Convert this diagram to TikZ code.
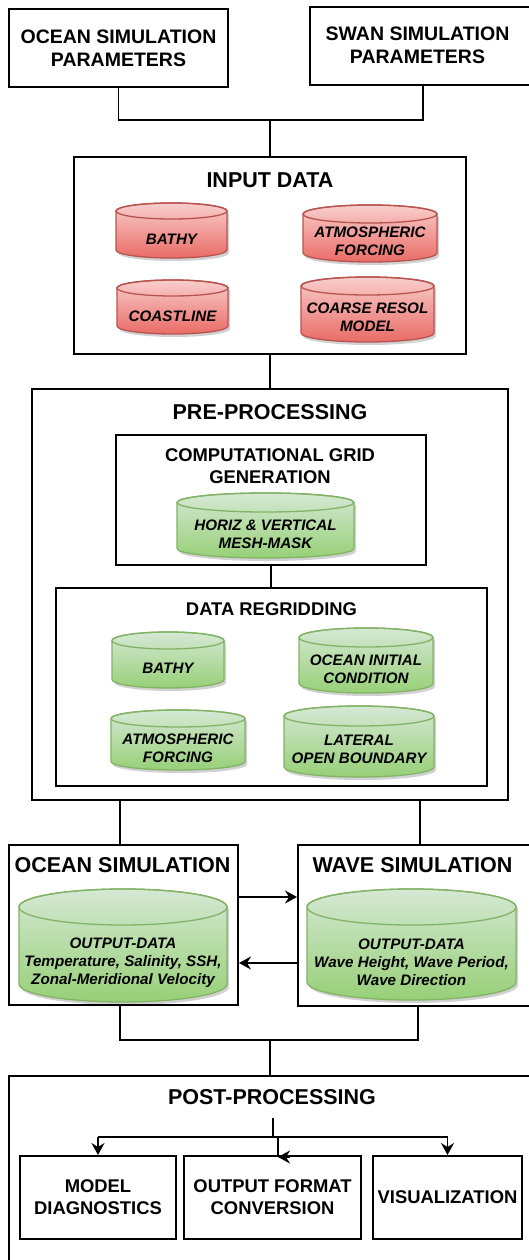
\documentclass[tikz,border=0pt]{standalone}
\usepackage{fontspec}
\setmainfont{Liberation Sans}
\usetikzlibrary{arrows.meta,calc}
\definecolor{redtop}{HTML}{F8CECC}
\definecolor{redbot}{HTML}{EA6B66}
\definecolor{redline}{HTML}{B85450}
\definecolor{grntop}{HTML}{D5E8D4}
\definecolor{grnbot}{HTML}{97D077}
\definecolor{grnline}{HTML}{82B366}
\tikzset{
  boxframe/.style={draw, line width=2pt, inner sep=0pt, align=center},
  bigttl/.style={font=\fontsize{21.5}{25}\selectfont\bfseries, inner sep=0pt},
  parttl/.style={font=\fontsize{19.5}{23}\selectfont\bfseries, align=center, inner sep=0pt},
  midttl/.style={font=\fontsize{18.4}{22}\selectfont\bfseries, align=center, inner sep=0pt},
  cyltxt/.style={font=\fontsize{15.2}{17.8}\selectfont\bfseries\itshape, align=center, inner sep=0pt},
  conn/.style={line width=1.8pt},
  arr/.style={line width=1.8pt, -{Stealth[length=12pt,width=13pt,inset=4pt]}},
}
\newcommand\cylnode[9]{%
  \pgfmathsetmacro\cylrx{(#3-#2)/2}%
  \pgfmathsetmacro\cylcx{(#2+#3)/2}%
  \pgfmathsetmacro\cylyt{-(#4+#6)}%
  \pgfmathsetmacro\cylyb{-(#5-#6)}%
  \fill[black,opacity=0.18] (#2+2,\cylyt-3) arc[start angle=180,end angle=0,x radius=\cylrx,y radius=#6] -- (#3+2,\cylyb-3) arc[start angle=0,end angle=-180,x radius=\cylrx,y radius=#6] -- cycle;
  \path[draw=#7line, line width=1.3pt, top color=#7top, bottom color=#7bot] (#2,\cylyt) arc[start angle=180,end angle=0,x radius=\cylrx,y radius=#6] -- (#3,\cylyb) arc[start angle=0,end angle=-180,x radius=\cylrx,y radius=#6] -- cycle;
  \draw[#7line, line width=1.3pt] (\cylcx,\cylyt) ellipse[x radius=\cylrx, y radius=#6];
  \node[cyltxt] (#1) at (\cylcx,-#9) {#8};
}
\begin{document}
\begin{tikzpicture}[x=1pt,y=1pt]
\useasboundingbox (0,0) rectangle (529,-1260);
\clip (0,0) rectangle (529,-1260);
\fill[white] (0,0) rectangle (529,-1260);
% parameters
\node[boxframe, parttl, minimum width=219pt, minimum height=78pt] (osp) at (118.5,-48) {OCEAN SIMULATION\\PARAMETERS};
\node[boxframe, minimum width=240pt, minimum height=78pt] (ssp) at (430,-46) {};
\node[parttl] (ssptxt) at (417.5,-45) {SWAN SIMULATION\\PARAMETERS};
% input data
\node[boxframe, minimum width=392pt, minimum height=197pt] (input) at (270,-255.5) {};
\node[bigttl] (inputttl) at (270,-180) {INPUT DATA};
\cylnode{bathyA}{116}{227}{203}{258}{8}{red}{BATHY}{239}
\cylnode{atmA}{303}{437}{205}{262}{9}{red}{ATMOSPHERIC\\FORCING}{241}
\cylnode{coastA}{117}{228}{280}{334}{8}{red}{COASTLINE}{316}
\cylnode{coarseA}{301}{434}{277}{342}{9}{red}{COARSE RESOL\\MODEL}{317}
% pre-processing
\node[boxframe, minimum width=476pt, minimum height=411pt] (pre) at (270,-594.5) {};
\node[bigttl] (prettl) at (270,-412) {PRE-PROCESSING};
\node[boxframe, minimum width=310pt, minimum height=130pt] (grid) at (271,-500) {};
\node[midttl] (gridttl) at (270,-466) {COMPUTATIONAL GRID\\GENERATION};
\cylnode{mesh}{177}{354}{493}{558}{9.5}{grn}{HORIZ \& VERTICAL\\MESH-MASK}{534}
\node[boxframe, minimum width=431pt, minimum height=198pt] (regrid) at (271.5,-687) {};
\node[midttl] (regridttl) at (271.5,-609) {DATA REGRIDDING};
\cylnode{bathyB}{112}{224}{632}{688}{8.5}{grn}{BATHY}{668}
\cylnode{ocinit}{299}{433}{628}{693}{9.5}{grn}{OCEAN INITIAL\\CONDITION}{669}
\cylnode{atmB}{111}{245}{710}{770}{8.5}{grn}{ATMOSPHERIC\\FORCING}{748.5}
\cylnode{lateral}{284}{434}{706}{777}{10}{grn}{LATERAL\\OPEN BOUNDARY}{749.5}
% simulations
\node[boxframe, minimum width=229pt, minimum height=160pt] (osim) at (123.5,-925) {};
\node[bigttl] (osimttl) at (122.5,-865) {OCEAN SIMULATION};
\node[boxframe, minimum width=242pt, minimum height=161pt] (wsim) at (419,-925.5) {};
\node[bigttl] (wsimttl) at (412.5,-865) {WAVE SIMULATION};
\cylnode{odata}{19}{227}{889}{1002}{18}{grn}{OUTPUT-DATA\\Temperature, Salinity, SSH,\\Zonal-Meridional Velocity}{962.5}
\cylnode{wdata}{307}{516}{889}{1000}{18}{grn}{OUTPUT-DATA\\Wave Height, Wave Period,\\Wave Direction}{962.5}
% post-processing
\node[boxframe, minimum width=536pt, minimum height=199pt] (post) at (277,-1175.5) {};
\node[bigttl] (postttl) at (272,-1097) {POST-PROCESSING};
\node[boxframe, midttl, minimum width=156pt, minimum height=83pt] (mdiag) at (98,-1197.5) {MODEL\\DIAGNOSTICS};
\node[boxframe, midttl, minimum width=177pt, minimum height=83pt] (ofc) at (272.5,-1197.5) {OUTPUT FORMAT\\CONVERSION};
\node[boxframe, midttl, minimum width=149pt, minimum height=83pt] (vis) at (447.5,-1197.5) {VISUALIZATION};
% connectors
\coordinate (j1) at (270,-120);
\coordinate (sspb) at (423,-85);
\draw[conn] (osp.south) |- (j1) -| (sspb);
\draw[conn] (j1) -- (input.north);
\draw[conn] (input.south) -- (pre.north);
\draw[conn] (grid.south) -- (grid.south |- regrid.north);
\coordinate (p1) at (120,-800);
\coordinate (p2) at (420,-800);
\draw[conn] (p1) -- (p1 |- osim.north);
\draw[conn] (p2) -- (p2 |- wsim.north);
\coordinate (ya) at (0,-897);
\coordinate (yb) at (0,-963);
\draw[arr] (osim.east |- ya) -- (wsim.west |- ya);
\draw[arr] (wsim.west |- yb) -- (osim.east |- yb);
\coordinate (qL) at (120,-1040);
\coordinate (qR) at (418,-1040);
\coordinate (j2) at (270,-1040);
\draw[conn] (qL |- osim.south) -- (qL) -- (qR) -- (qR |- wsim.south);
\draw[conn] (j2) -- (j2 |- post.north);
\coordinate (t0) at (273,-1118);
\coordinate (t1) at (273,-1137);
\draw[conn] (t0) -- (t1);
\draw[conn] (mdiag.north |- t1) -- (vis.north |- t1);
\draw[arr] (mdiag.north |- t1) -- (mdiag.north);
\draw[arr] (vis.north |- t1) -- (vis.north);
\coordinate (t2) at (278,-1137);
\coordinate (t3) at (278,-1157);
\draw[conn] (t2) -- (t3);
\draw[arr] ([xshift=12pt]t3) -- (t3);
\end{tikzpicture}
\end{document}
